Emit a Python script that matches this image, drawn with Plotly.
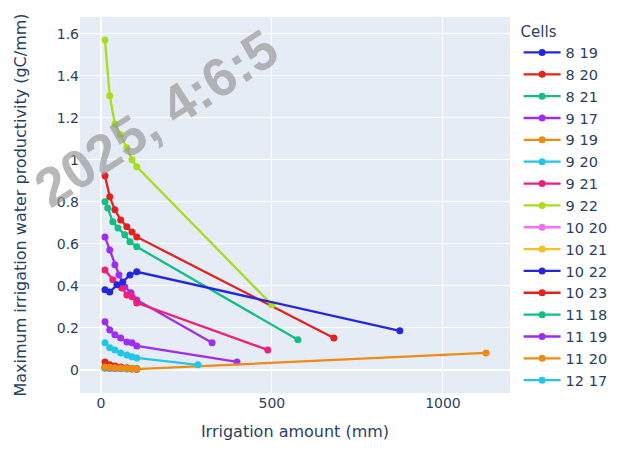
import plotly.graph_objects as go

# Cell identifiers, drawn in this order
cells = ["8 19", "8 20", "8 21", "9 17", "9 19", "9 20", "9 21", "9 22",
         "10 20", "10 21", "10 22", "10 23", "11 18", "11 19", "11 20", "12 17"]

# Irrigation amount (mm) per cell
irrigation = {
    "8 19":  [12, 26, 41, 58, 76, 91, 105],
    "8 20":  [12, 26, 41, 58, 76, 91, 105, 681],
    "8 21":  [12, 20, 35, 50, 70, 85, 105, 576],
    "9 17":  [12, 26, 41, 53, 70, 88, 105, 325],
    "9 19":  [12, 26, 41, 58, 76, 91, 105],
    "9 20":  [12, 26, 41, 58, 76, 91, 105],
    "9 21":  [12, 35, 61, 76, 91, 105, 488],
    "9 22":  [12, 26, 41, 58, 76, 91, 105, 500],
    "10 20": [12, 26, 41, 58, 76, 91, 105],
    "10 21": [12, 26, 41, 58, 76, 91, 105],
    "10 22": [12, 26, 47, 64, 85, 105, 874],
    "10 23": [12, 26, 41, 58, 76, 91, 105],
    "11 18": [12, 26, 41, 58, 76, 91, 105],
    "11 19": [12, 26, 41, 58, 76, 91, 105, 398],
    "11 20": [12, 26, 41, 58, 76, 91, 105, 1126],
    "12 17": [12, 26, 41, 58, 76, 91, 105, 284],
}

# Maximum irrigation water productivity (gC/mm) per cell
productivity = {
    "8 19":  [0.010, 0.009, 0.008, 0.007, 0.006, 0.006, 0.005],
    "8 20":  [0.924, 0.824, 0.762, 0.714, 0.681, 0.657, 0.633, 0.152],
    "8 21":  [0.800, 0.771, 0.705, 0.676, 0.643, 0.610, 0.586, 0.143],
    "9 17":  [0.633, 0.571, 0.500, 0.452, 0.395, 0.367, 0.333, 0.129],
    "9 19":  [0.015, 0.013, 0.011, 0.010, 0.009, 0.008, 0.007],
    "9 20":  [0.012, 0.010, 0.009, 0.008, 0.007, 0.006, 0.005],
    "9 21":  [0.476, 0.429, 0.390, 0.357, 0.348, 0.319, 0.095],
    "9 22":  [1.571, 1.305, 1.171, 1.119, 1.057, 1.000, 0.967, 0.310],
    "10 20": [0.008, 0.007, 0.006, 0.005, 0.005, 0.004, 0.004],
    "10 21": [0.012, 0.011, 0.010, 0.009, 0.008, 0.007, 0.006],
    "10 22": [0.381, 0.371, 0.405, 0.419, 0.452, 0.467, 0.186],
    "10 23": [0.038, 0.024, 0.019, 0.014, 0.010, 0.005, 0.003],
    "11 18": [0.010, 0.009, 0.008, 0.007, 0.006, 0.005, 0.005],
    "11 19": [0.229, 0.190, 0.167, 0.152, 0.133, 0.129, 0.114, 0.038],
    "11 20": [0.014, 0.012, 0.010, 0.009, 0.008, 0.006, 0.004, 0.081],
    "12 17": [0.129, 0.105, 0.095, 0.081, 0.071, 0.062, 0.057, 0.024],
}

colors = ["#2326E0", "#E2231D", "#12BE84", "#9B2EF0", "#F08A12", "#22C6E8",
          "#F0207A", "#A8DC1E", "#F870F0", "#F8C020", "#2326E0", "#E2231D",
          "#12BE84", "#9B2EF0", "#F08A12", "#22C6E8"]

fig = go.Figure()
for name, color in zip(cells, colors):
    fig.add_trace(go.Scatter(
        x=irrigation[name], y=productivity[name], name=name,
        mode="lines+markers",
        line=dict(color=color, width=2.3),
        marker=dict(color=color, size=7),
    ))

font_family = "DejaVu Sans, Verdana, sans-serif"

fig.update_layout(
    width=622, height=476,
    template="plotly",
    font=dict(family=font_family, size=14),
    margin=dict(l=80, r=112, t=17, b=83, autoexpand=False),
    legend=dict(title=dict(text="Cells", font=dict(size=15)),
                font=dict(size=14.5), itemwidth=37, maxheight=460),
    xaxis=dict(title=dict(text="Irrigation amount (mm)", font=dict(size=16)),
               range=[-61, 1196], tickvals=[0, 500, 1000],
               tickfont=dict(size=14)),
    yaxis=dict(title=dict(text="Maximum irrigation water productivity (gC/mm)",
                          font=dict(size=16), standoff=26),
               range=[-0.11, 1.68], dtick=0.2, tickfont=dict(size=14)),
    annotations=[
        dict(text="<b>2025, 4:6:5</b>", xref="paper", yref="paper",
             x=(156 - 80) / 430, y=(393 - 118) / 376,
             xanchor="center", yanchor="middle",
             showarrow=False, textangle=-33,
             font=dict(family="Liberation Sans, Arial", size=54,
                       color="rgba(150,150,150,0.68)")),
    ],
)

fig.write_html("out.html")
